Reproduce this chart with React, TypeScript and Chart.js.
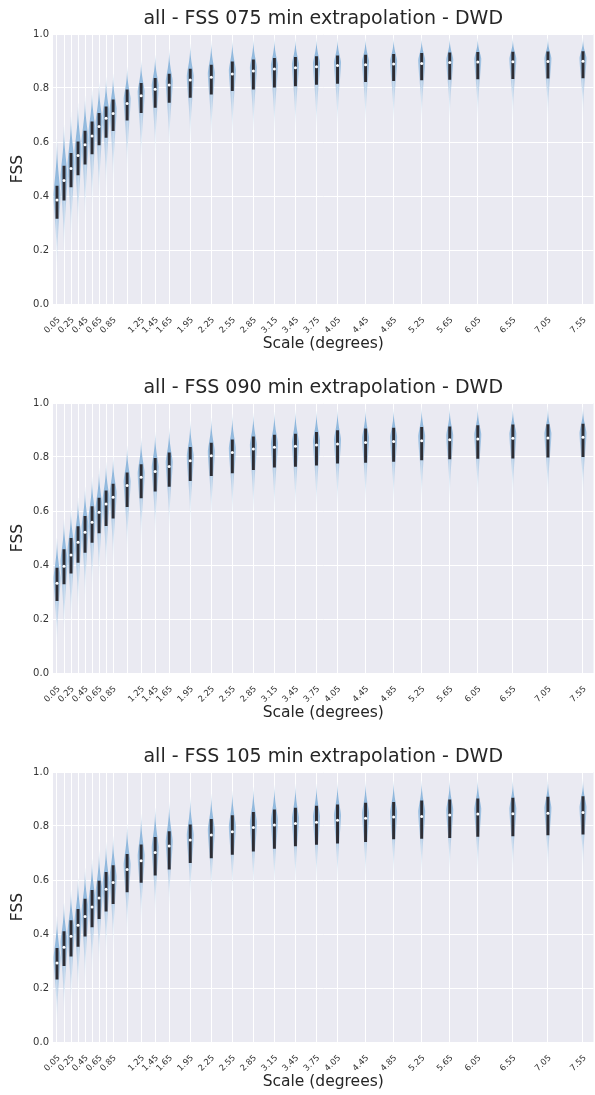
import React, { useEffect, useRef } from 'react';
import { Chart, registerables } from 'chart.js';

Chart.register(...registerables);

const FONT = "'DejaVu Sans', sans-serif";

// Spatial scales (degrees) – one violin per scale
const SCALES = [0.05, 0.15, 0.25, 0.35, 0.45, 0.55, 0.65, 0.75, 0.85, 1.05, 1.25, 1.45, 1.65, 1.95, 2.25, 2.55, 2.85, 3.15, 3.45, 3.75, 4.05, 4.45, 4.85, 5.25, 5.65, 6.05, 6.55, 7.05, 7.55];
const TICK_LABELS = ['0.05', '0.25', '0.45', '0.65', '0.85', '1.25', '1.45', '1.65', '1.95', '2.25', '2.55', '2.85', '3.15', '3.45', '3.75', '4.05', '4.45', '4.85', '5.25', '5.65', '6.05', '6.55', '7.05', '7.55'];
const Y_TICKS = [0, 0.2, 0.4, 0.6, 0.8, 1.0];

// 075 min
const TITLE_075 = 'all - FSS 075 min extrapolation - DWD';
const MED_075 = [0.385, 0.457, 0.502, 0.55, 0.59, 0.622, 0.657, 0.688, 0.706, 0.743, 0.771, 0.795, 0.811, 0.83, 0.84, 0.852, 0.863, 0.87, 0.875, 0.879, 0.883, 0.886, 0.889, 0.891, 0.894, 0.896, 0.897, 0.898, 0.899];
const Q1_075 = [0.317, 0.385, 0.434, 0.478, 0.518, 0.556, 0.589, 0.617, 0.642, 0.681, 0.709, 0.728, 0.747, 0.765, 0.777, 0.79, 0.796, 0.803, 0.808, 0.813, 0.817, 0.823, 0.827, 0.83, 0.832, 0.834, 0.835, 0.836, 0.837];
const Q3_075 = [0.437, 0.511, 0.558, 0.601, 0.64, 0.675, 0.706, 0.73, 0.756, 0.793, 0.817, 0.836, 0.852, 0.87, 0.885, 0.897, 0.904, 0.91, 0.914, 0.916, 0.919, 0.922, 0.925, 0.928, 0.93, 0.932, 0.933, 0.934, 0.935];
const LOW_075 = [0.08, 0.13, 0.17, 0.21, 0.25, 0.29, 0.32, 0.36, 0.39, 0.44, 0.47, 0.5, 0.52, 0.55, 0.56, 0.57, 0.58, 0.59, 0.6, 0.6, 0.61, 0.62, 0.62, 0.63, 0.63, 0.64, 0.64, 0.64, 0.65];
const HIGH_075 = [0.63, 0.68, 0.72, 0.755, 0.78, 0.805, 0.83, 0.85, 0.86, 0.885, 0.91, 0.93, 0.95, 0.97, 0.98, 0.985, 0.99, 0.99, 0.99, 0.99, 0.99, 0.99, 0.99, 0.99, 0.99, 0.99, 0.99, 0.99, 0.99];

// 090 min
const TITLE_090 = 'all - FSS 090 min extrapolation - DWD';
const MED_090 = [0.332, 0.395, 0.437, 0.484, 0.521, 0.558, 0.595, 0.626, 0.651, 0.694, 0.725, 0.746, 0.765, 0.786, 0.805, 0.817, 0.83, 0.836, 0.84, 0.844, 0.848, 0.854, 0.857, 0.86, 0.864, 0.867, 0.869, 0.87, 0.873];
const Q1_090 = [0.268, 0.33, 0.37, 0.41, 0.447, 0.484, 0.519, 0.546, 0.573, 0.616, 0.648, 0.673, 0.691, 0.712, 0.731, 0.741, 0.753, 0.762, 0.765, 0.77, 0.777, 0.78, 0.784, 0.789, 0.793, 0.795, 0.796, 0.799, 0.801];
const Q3_090 = [0.389, 0.457, 0.499, 0.542, 0.58, 0.616, 0.648, 0.675, 0.7, 0.741, 0.772, 0.795, 0.815, 0.836, 0.852, 0.864, 0.875, 0.881, 0.885, 0.891, 0.898, 0.904, 0.907, 0.91, 0.912, 0.916, 0.919, 0.92, 0.922];
const LOW_090 = [0.05, 0.09, 0.13, 0.17, 0.21, 0.25, 0.28, 0.32, 0.35, 0.4, 0.43, 0.46, 0.48, 0.5, 0.52, 0.53, 0.54, 0.55, 0.56, 0.56, 0.57, 0.58, 0.58, 0.59, 0.59, 0.6, 0.6, 0.6, 0.61];
const HIGH_090 = [0.515, 0.583, 0.62, 0.66, 0.7, 0.737, 0.768, 0.79, 0.81, 0.85, 0.88, 0.9, 0.915, 0.94, 0.953, 0.965, 0.97, 0.975, 0.98, 0.98, 0.985, 0.985, 0.985, 0.99, 0.99, 0.99, 0.99, 0.99, 0.99];

// 105 min
const TITLE_105 = 'all - FSS 105 min extrapolation - DWD';
const MED_105 = [0.293, 0.351, 0.392, 0.432, 0.465, 0.5, 0.533, 0.566, 0.591, 0.639, 0.671, 0.702, 0.726, 0.748, 0.767, 0.779, 0.794, 0.804, 0.809, 0.814, 0.821, 0.829, 0.833, 0.835, 0.841, 0.844, 0.845, 0.847, 0.85];
const Q1_105 = [0.233, 0.283, 0.318, 0.354, 0.392, 0.426, 0.457, 0.485, 0.512, 0.556, 0.591, 0.618, 0.64, 0.664, 0.682, 0.695, 0.707, 0.717, 0.726, 0.732, 0.736, 0.742, 0.752, 0.754, 0.757, 0.761, 0.763, 0.767, 0.77];
const Q3_105 = [0.347, 0.409, 0.45, 0.491, 0.529, 0.562, 0.596, 0.628, 0.653, 0.695, 0.73, 0.758, 0.779, 0.804, 0.825, 0.839, 0.851, 0.86, 0.866, 0.874, 0.878, 0.885, 0.888, 0.893, 0.897, 0.901, 0.903, 0.907, 0.909];
const LOW_105 = [0.02, 0.05, 0.08, 0.12, 0.16, 0.2, 0.23, 0.27, 0.3, 0.35, 0.39, 0.42, 0.45, 0.48, 0.5, 0.51, 0.52, 0.53, 0.54, 0.55, 0.55, 0.56, 0.57, 0.57, 0.58, 0.58, 0.58, 0.59, 0.59];
const HIGH_105 = [0.48, 0.53, 0.575, 0.618, 0.655, 0.69, 0.72, 0.75, 0.773, 0.816, 0.854, 0.878, 0.897, 0.915, 0.928, 0.94, 0.953, 0.96, 0.963, 0.965, 0.97, 0.972, 0.975, 0.975, 0.978, 0.98, 0.98, 0.98, 0.98];

const PANELS = [
  { title: TITLE_075, med: MED_075, q1: Q1_075, q3: Q3_075, low: LOW_075, high: HIGH_075 },
  { title: TITLE_090, med: MED_090, q1: Q1_090, q3: Q3_090, low: LOW_090, high: HIGH_090 },
  { title: TITLE_105, med: MED_105, q1: Q1_105, q3: Q3_105, low: LOW_105, high: HIGH_105 },
];

const PANEL_H = 369;
const W = 595;

const bgPlugin = {
  id: 'bgArea',
  beforeDraw(chart: any) {
    const { ctx, chartArea } = chart;
    ctx.save();
    ctx.fillStyle = '#EAEAF2';
    ctx.fillRect(chartArea.left, chartArea.top, chartArea.right - chartArea.left, chartArea.bottom - chartArea.top);
    ctx.restore();
  },
};

const violinPlugin = {
  id: 'violins',
  beforeDatasetsDraw(chart: any, _args: any, opts: any) {
    const { ctx, chartArea } = chart;
    const xs = chart.scales.x;
    const ys = chart.scales.y;
    if (!opts || !opts.xs) return;
    ctx.save();
    ctx.beginPath();
    ctx.rect(chartArea.left, chartArea.top, chartArea.right - chartArea.left, chartArea.bottom - chartArea.top);
    ctx.clip();
    const HW = 3.5;
    const N = 90;
    opts.xs.forEach((xv: number, i: number) => {
      const lo = opts.low[i], hi = opts.high[i], md = opts.med[i], a = opts.q1[i], b = opts.q3[i];
      const peak = md + 0.35 * (b - md);
      const cx = xs.getPixelForValue(xv);
      const right: number[][] = [];
      const left: number[][] = [];
      for (let k = 0; k <= N; k++) {
        const v = lo + ((hi - lo) * k) / N;
        let w: number;
        if (v >= peak) {
          const t = (v - peak) / (hi - peak);
          w = HW * Math.exp(-2.8 * t * t) * (1 - t);
        } else {
          const t = (peak - v) / (peak - lo);
          w = HW * Math.exp(-4.2 * t * t) * Math.sqrt(Math.max(0, 1 - t));
        }
        const py = ys.getPixelForValue(v);
        right.push([cx + w, py]);
        left.push([cx - w, py]);
      }
      const yLo = ys.getPixelForValue(lo);
      const yHi = ys.getPixelForValue(hi);
      const g = ctx.createLinearGradient(0, yLo, 0, yHi);
      const f = (v: number) => Math.min(1, Math.max(0, (v - lo) / (hi - lo)));
      g.addColorStop(0, 'rgba(135,180,220,0.06)');
      g.addColorStop(f(a), 'rgba(135,180,220,0.5)');
      g.addColorStop(f(peak), 'rgba(135,180,220,0.8)');
      g.addColorStop(1, 'rgba(120,168,212,0.95)');
      ctx.beginPath();
      right.forEach((p, k) => (k === 0 ? ctx.moveTo(p[0], p[1]) : ctx.lineTo(p[0], p[1])));
      for (let k = left.length - 1; k >= 0; k--) ctx.lineTo(left[k][0], left[k][1]);
      ctx.closePath();
      ctx.fillStyle = g;
      ctx.fill();
    });
    ctx.restore();
  },
};

function Panel({ panel }: { panel: any }) {
  const ref = useRef<HTMLCanvasElement | null>(null);
  useEffect(() => {
    if (!ref.current) return;
    const chart = new Chart(ref.current, {
      type: 'bar',
      data: {
        datasets: [
          {
            type: 'scatter',
            order: 1,
            data: SCALES.map((s, i) => ({ x: s, y: panel.med[i] })),
            pointRadius: 1.5,
            pointBackgroundColor: '#ffffff',
            pointBorderWidth: 0,
            pointHoverRadius: 1.5,
          } as any,
          {
            type: 'bar',
            order: 2,
            data: SCALES.map((s, i) => ({ x: s, y: [panel.q1[i], panel.q3[i]] })) as any,
            backgroundColor: 'rgb(45,45,52)',
            borderWidth: 0,
            barThickness: 2.3,
          } as any,
        ],
      },
      options: {
        animation: false,
        responsive: false,
        maintainAspectRatio: false,
        devicePixelRatio: 1,
        layout: { padding: 0 },
        events: [],
        plugins: {
          legend: { display: false },
          tooltip: { enabled: false },
          title: {
            display: true,
            text: panel.title,
            fullSize: false,
            color: '#262626',
            font: { family: FONT, size: 19, weight: 'normal' },
            padding: { top: 8, bottom: 3.2 },
          },
          violins: { xs: SCALES, low: panel.low, high: panel.high, med: panel.med, q1: panel.q1, q3: panel.q3 },
        } as any,
        scales: {
          x: {
            type: 'linear',
            min: -0.007,
            max: 7.7,
            offset: false,
            afterBuildTicks: (s: any) => {
              s.ticks = SCALES.map((v) => ({ value: v }));
            },
            afterFit: (s: any) => {
              s.height = PANEL_H - 304;
              s.paddingLeft = 0;
              s.paddingRight = 0;
            },
            grid: { color: '#ffffff', lineWidth: 1, drawTicks: false, offset: false },
            border: { display: false },
            ticks: {
              autoSkip: false,
              minRotation: 45,
              maxRotation: 45,
              padding: 11,
              labelOffset: 2,
              color: '#333333',
              font: { family: FONT, size: 8.5 },
              callback: (value: any) => {
                const t = Number(value).toFixed(2);
                return TICK_LABELS.includes(t) ? t : '';
              },
            },
            title: {
              display: true,
              text: 'Scale (degrees)',
              color: '#262626',
              font: { family: FONT, size: 15.5 },
              padding: { top: 0, bottom: 15.7 },
            },
          },
          y: {
            type: 'linear',
            min: 0,
            max: 1,
            afterBuildTicks: (s: any) => {
              s.ticks = Y_TICKS.map((v) => ({ value: v }));
            },
            afterFit: (s: any) => {
              s.width = 53;
            },
            grid: { color: '#ffffff', lineWidth: 1, drawTicks: false },
            border: { display: false },
            ticks: {
              padding: 4,
              color: '#333333',
              font: { family: FONT, size: 10 },
              callback: (v: any) => Number(v).toFixed(1),
            },
            title: {
              display: true,
              text: 'FSS',
              color: '#262626',
              font: { family: FONT, size: 15.5 },
              padding: { top: 9, bottom: 0 },
            },
          },
        } as any,
      },
      plugins: [bgPlugin, violinPlugin],
    } as any);
    return () => chart.destroy();
  }, [panel]);
  return <canvas ref={ref} width={W} height={PANEL_H} style={{ display: 'block', width: W, height: PANEL_H }} />;
}

export default function App() {
  return (
    <div style={{ position: 'absolute', left: 0, top: 0, width: W, height: 1095, overflow: 'hidden', background: '#ffffff' }}>
      {PANELS.map((p, i) => (
        <div key={i} style={{ position: 'absolute', left: 0, top: i * PANEL_H, width: W, height: PANEL_H }}>
          <Panel panel={p} />
        </div>
      ))}
    </div>
  );
}
